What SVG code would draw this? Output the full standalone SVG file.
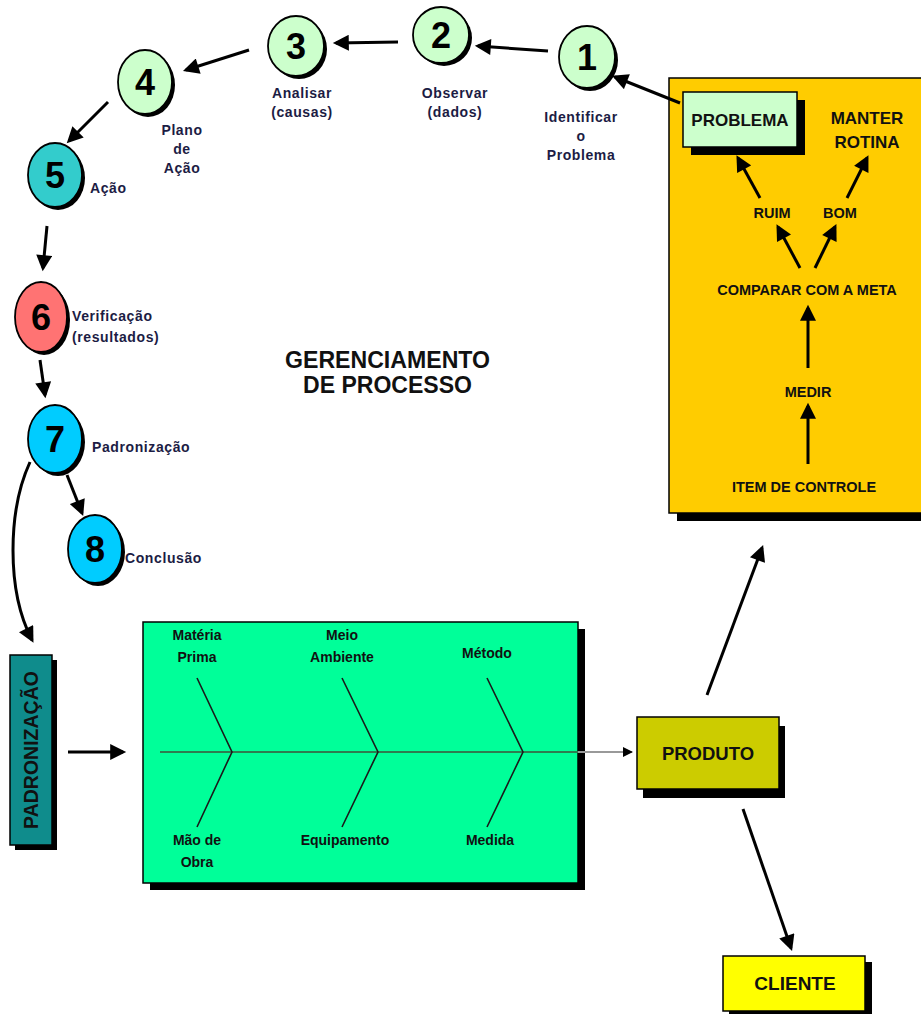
<svg xmlns="http://www.w3.org/2000/svg" width="921" height="1014" viewBox="0 0 921 1014">
  <defs>
    <marker id="ah" viewBox="0 0 10 10" refX="8" refY="5" markerWidth="18" markerHeight="16" markerUnits="userSpaceOnUse" orient="auto">
      <path d="M0,0 L10,5 L0,10 z" fill="#000"/>
    </marker>
    <marker id="ahs" viewBox="0 0 10 10" refX="9" refY="5" markerWidth="11" markerHeight="10" markerUnits="userSpaceOnUse" orient="auto">
      <path d="M0,0 L10,5 L0,10 z" fill="#000"/>
    </marker>
    <style>
      .lbl { font-family: "Liberation Sans", Arial, sans-serif; font-weight: bold; font-size: 14px; fill: #1c1c44; letter-spacing: 0.6px; }
      .fb { font-family: "Liberation Sans", Arial, sans-serif; font-weight: bold; font-size: 14px; fill: #111; text-anchor: middle; }
      .yb { font-family: "Liberation Sans", Arial, sans-serif; font-weight: bold; font-size: 14.5px; fill: #111; text-anchor: middle; }
      .num { font-family: "Liberation Sans", Arial, sans-serif; font-weight: bold; font-size: 36px; fill: #000; text-anchor: middle; }
      .big { font-family: "Liberation Sans", Arial, sans-serif; font-weight: bold; fill: #111; text-anchor: middle; }
      .circ { stroke: #000; stroke-width: 1.8; }
      .shadow { fill: #000; }
      .box { stroke: #000; stroke-width: 1.5; }
      .arr { stroke: #000; stroke-width: 3; fill: none; marker-end: url(#ah); }
      .bone { stroke: #1a1a1a; stroke-width: 1.6; fill: none; }
      .mid { text-anchor: middle; }
    </style>
  </defs>
  <rect width="921" height="1014" fill="#fff"/>

  <!-- control panel -->
  <g id="controle">
    <rect class="shadow" x="677" y="86" width="260" height="435"/>
    <rect class="box" x="669" y="78" width="260" height="435" fill="#ffcc00"/>
    <text class="yb" x="772" y="218">RUIM</text>
    <text class="yb" x="840" y="218">BOM</text>
    <text class="yb" x="807" y="295">COMPARAR COM A META</text>
    <text class="yb" x="808" y="397">MEDIR</text>
    <text class="yb" x="804" y="492">ITEM DE CONTROLE</text>
    <text class="big" x="867" y="124" font-size="17">MANTER</text>
    <text class="big" x="867" y="148" font-size="17">ROTINA</text>
  </g>
  <g id="problema">
    <rect class="shadow" x="691" y="100" width="114" height="55"/>
    <rect class="box" x="683" y="92" width="114" height="55" fill="#ccffcc"/>
    <text class="big" x="740" y="126" font-size="17" fill="#1c1c44">PROBLEMA</text>
  </g>

  <!-- PDCA steps -->
  <g id="passo1">
    <ellipse class="shadow" cx="590" cy="60" rx="28" ry="31"/>
    <ellipse class="circ" cx="587" cy="57" rx="28" ry="31" fill="#ccffcc"/>
    <text class="num" x="587" y="70">1</text>
    <text class="lbl mid" x="581" y="122">Identificar</text>
    <text class="lbl mid" x="581" y="141">o</text>
    <text class="lbl mid" x="581" y="160">Problema</text>
  </g>
  <g id="passo2">
    <ellipse class="shadow" cx="444" cy="38" rx="28" ry="28"/>
    <ellipse class="circ" cx="441" cy="35" rx="28" ry="28" fill="#ccffcc"/>
    <text class="num" x="441" y="48">2</text>
    <text class="lbl mid" x="455" y="98">Observar</text>
    <text class="lbl mid" x="455" y="117">(dados)</text>
  </g>
  <g id="passo3">
    <ellipse class="shadow" cx="299" cy="49" rx="28" ry="30"/>
    <ellipse class="circ" cx="296" cy="46" rx="28" ry="30" fill="#ccffcc"/>
    <text class="num" x="296" y="59">3</text>
    <text class="lbl mid" x="302" y="98">Analisar</text>
    <text class="lbl mid" x="302" y="117">(causas)</text>
  </g>
  <g id="passo4">
    <ellipse class="shadow" cx="148" cy="85" rx="27" ry="32"/>
    <ellipse class="circ" cx="145" cy="82" rx="27" ry="32" fill="#ccffcc"/>
    <text class="num" x="145" y="95">4</text>
    <text class="lbl mid" x="182" y="135">Plano</text>
    <text class="lbl mid" x="182" y="154">de</text>
    <text class="lbl mid" x="182" y="173">Ação</text>
  </g>
  <g id="passo5">
    <ellipse class="shadow" cx="58" cy="178" rx="27" ry="32"/>
    <ellipse class="circ" cx="55" cy="175" rx="27" ry="32" fill="#33cccc"/>
    <text class="num" x="55" y="188">5</text>
    <text class="lbl" x="90" y="193">Ação</text>
  </g>
  <g id="passo6">
    <ellipse class="shadow" cx="44" cy="320" rx="26" ry="35"/>
    <ellipse class="circ" cx="41" cy="317" rx="26" ry="35" fill="#ff7373"/>
    <text class="num" x="41" y="330">6</text>
    <text class="lbl" x="72" y="321">Verificação</text>
    <text class="lbl" x="72" y="342">(resultados)</text>
  </g>
  <g id="passo7">
    <ellipse class="shadow" cx="58" cy="442" rx="27" ry="34"/>
    <ellipse class="circ" cx="55" cy="439" rx="27" ry="34" fill="#00ccff"/>
    <text class="num" x="55" y="452">7</text>
    <text class="lbl" x="92" y="452">Padronização</text>
  </g>
  <g id="passo8">
    <ellipse class="shadow" cx="98" cy="552" rx="27" ry="34"/>
    <ellipse class="circ" cx="95" cy="549" rx="27" ry="34" fill="#00ccff"/>
    <text class="num" x="95" y="562">8</text>
    <text class="lbl" x="125" y="563">Conclusão</text>
  </g>

  <g id="titulo">
    <text class="big" x="387.5" y="368" font-size="24" fill="#333" textLength="205" lengthAdjust="spacingAndGlyphs">GERENCIAMENTO</text>
    <text class="big" x="387.5" y="393" font-size="24" fill="#333" textLength="169" lengthAdjust="spacingAndGlyphs">DE PROCESSO</text>
  </g>

  <g id="padronizacao">
    <rect class="shadow" x="15" y="660" width="42" height="190"/>
    <rect class="box" x="10" y="655" width="42" height="190" fill="#0f8c8c"/>
    <text class="big" transform="translate(38,750) rotate(-90)" x="0" y="0" font-size="19.5" fill="#1c1c44">PADRONIZAÇÃO</text>
  </g>

  <!-- cause and effect -->
  <g id="ishikawa">
    <rect class="shadow" x="150" y="629" width="435" height="261"/>
    <rect class="box" x="143" y="622" width="435" height="261" fill="#00ff99"/>
    <line x1="160" y1="752" x2="578" y2="752" stroke="#2e7d50" stroke-width="2"/>
    <polyline class="bone" points="197,678 232,752 197,827"/>
    <polyline class="bone" points="342,678 378,752 342,827"/>
    <polyline class="bone" points="487,678 523,752 487,827"/>
    <text class="fb" x="197" y="640">Matéria</text>
    <text class="fb" x="197" y="662">Prima</text>
    <text class="fb" x="342" y="640">Meio</text>
    <text class="fb" x="342" y="662">Ambiente</text>
    <text class="fb" x="487" y="658">Método</text>
    <text class="fb" x="197" y="845">Mão de</text>
    <text class="fb" x="197" y="867">Obra</text>
    <text class="fb" x="345" y="845">Equipamento</text>
    <text class="fb" x="490" y="845">Medida</text>
  </g>

  <g id="produto">
    <rect class="shadow" x="643" y="726" width="142" height="72"/>
    <rect class="box" x="637" y="717" width="142" height="72" fill="#cccc00"/>
    <text class="big" x="708" y="760" font-size="18.5">PRODUTO</text>
  </g>

  <g id="cliente">
    <rect class="shadow" x="729" y="962" width="143" height="55"/>
    <rect class="box" x="723" y="956" width="142" height="55" fill="#ffff00"/>
    <text class="big" x="795" y="990" font-size="19">CLIENTE</text>
  </g>

  <g id="conectores">
    <line class="arr" x1="680" y1="103" x2="615" y2="77"/>
    <line class="arr" x1="548" y1="51" x2="478" y2="46"/>
    <line class="arr" x1="398" y1="42" x2="336" y2="43"/>
    <line class="arr" x1="249" y1="50" x2="186" y2="70"/>
    <line class="arr" x1="108" y1="102" x2="69" y2="141"/>
    <line class="arr" x1="47" y1="226" x2="43" y2="268"/>
    <line class="arr" x1="40" y1="360" x2="45" y2="395"/>
    <line class="arr" x1="67" y1="475" x2="82" y2="513"/>
    <path class="arr" d="M30,462 C8,510 6,590 32,640"/>
    <line class="arr" x1="68" y1="752" x2="123" y2="752"/>
    <line x1="578" y1="752" x2="632" y2="752" stroke="#999" stroke-width="2" marker-end="url(#ahs)"/>
    <line class="arr" x1="707" y1="695" x2="762" y2="548"/>
    <line class="arr" x1="743" y1="809" x2="791" y2="948"/>
    <line class="arr" x1="760" y1="198" x2="738" y2="158"/>
    <line class="arr" x1="847" y1="198" x2="867" y2="158"/>
    <line class="arr" x1="800" y1="268" x2="778" y2="227"/>
    <line class="arr" x1="815" y1="268" x2="835" y2="227"/>
    <line class="arr" x1="808" y1="368" x2="808" y2="308"/>
    <line class="arr" x1="808" y1="464" x2="808" y2="406"/>
  </g>
</svg>
